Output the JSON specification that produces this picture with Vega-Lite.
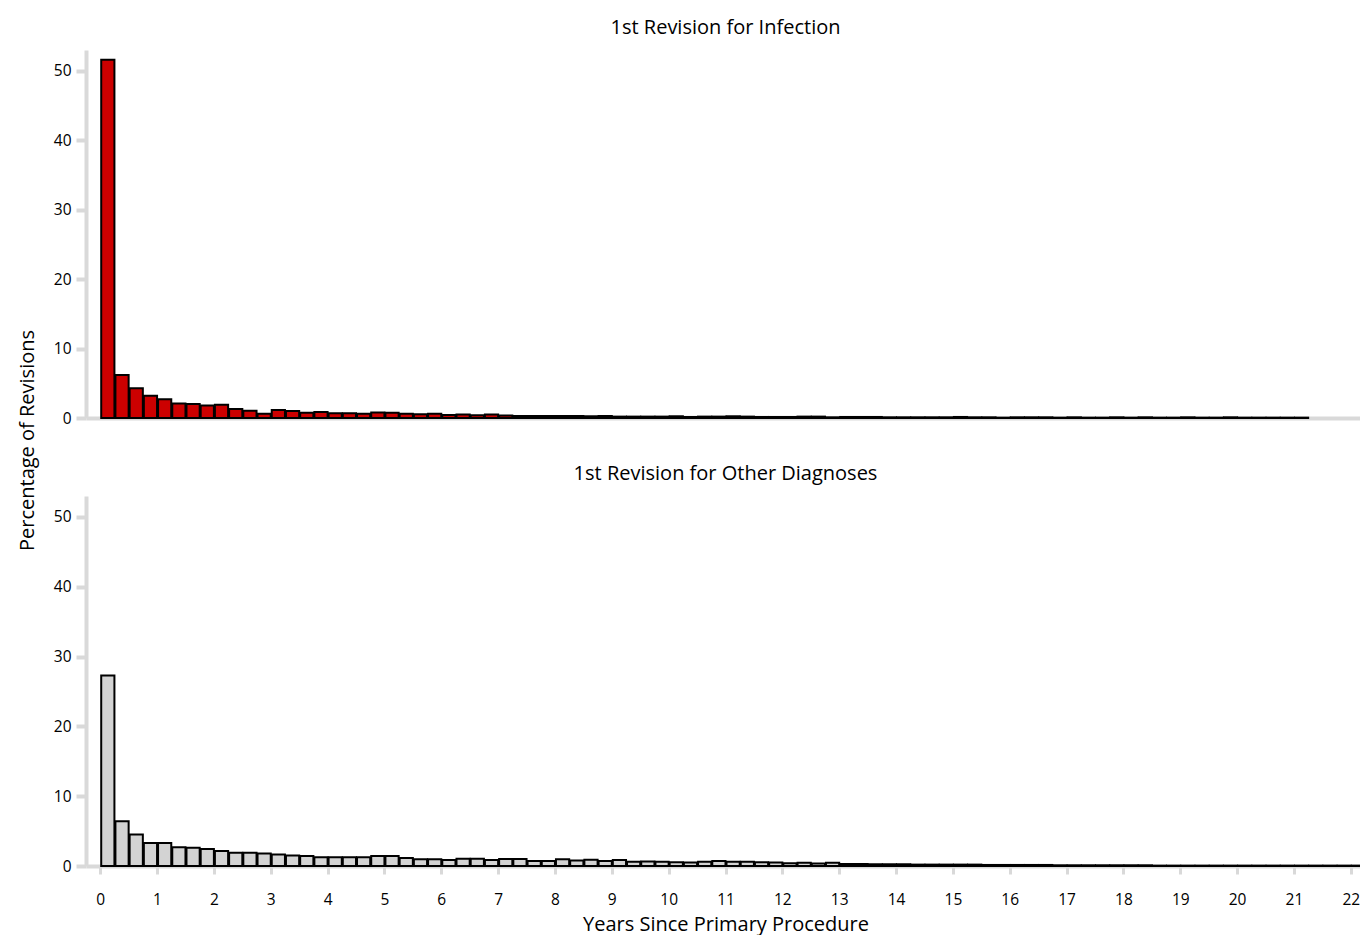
{
  "$schema": "https://vega.github.io/schema/vega-lite/v6.json",
  "padding": {"left": 17, "top": 18, "right": 0, "bottom": 0},
  "spacing": 78,
  "bounds": "flush",
  "config": {
    "font": "Open Sans",
    "view": {"stroke": null},
    "axis": {
      "domainColor": "#d9d9d9",
      "domainWidth": 4,
      "tickColor": "#d9d9d9",
      "tickWidth": 4,
      "tickSize": 10,
      "labelColor": "#000000",
      "labelFontSize": 15.5,
      "grid": false,
      "titleFontWeight": "normal",
      "titleFontSize": 20,
      "titleColor": "#000000"
    },
    "title": {"fontSize": 20, "fontWeight": "normal", "color": "#000000", "offset": 12}
  },
  "datasets": {
    "infection": [
      {"start": 0, "end": 0.25, "pct": 51.6},
      {"start": 0.25, "end": 0.5, "pct": 6.2},
      {"start": 0.5, "end": 0.75, "pct": 4.3},
      {"start": 0.75, "end": 1.0, "pct": 3.2},
      {"start": 1.0, "end": 1.25, "pct": 2.7},
      {"start": 1.25, "end": 1.5, "pct": 2.1},
      {"start": 1.5, "end": 1.75, "pct": 2.0},
      {"start": 1.75, "end": 2.0, "pct": 1.8},
      {"start": 2.0, "end": 2.25, "pct": 1.9},
      {"start": 2.25, "end": 2.5, "pct": 1.3},
      {"start": 2.5, "end": 2.75, "pct": 1.05},
      {"start": 2.75, "end": 3.0, "pct": 0.6},
      {"start": 3.0, "end": 3.25, "pct": 1.15},
      {"start": 3.25, "end": 3.5, "pct": 1.0},
      {"start": 3.5, "end": 3.75, "pct": 0.75},
      {"start": 3.75, "end": 4.0, "pct": 0.85},
      {"start": 4.0, "end": 4.25, "pct": 0.7},
      {"start": 4.25, "end": 4.5, "pct": 0.7},
      {"start": 4.5, "end": 4.75, "pct": 0.6},
      {"start": 4.75, "end": 5.0, "pct": 0.8},
      {"start": 5.0, "end": 5.25, "pct": 0.75},
      {"start": 5.25, "end": 5.5, "pct": 0.6},
      {"start": 5.5, "end": 5.75, "pct": 0.55},
      {"start": 5.75, "end": 6.0, "pct": 0.6},
      {"start": 6.0, "end": 6.25, "pct": 0.45},
      {"start": 6.25, "end": 6.5, "pct": 0.5},
      {"start": 6.5, "end": 6.75, "pct": 0.4},
      {"start": 6.75, "end": 7.0, "pct": 0.5},
      {"start": 7.0, "end": 7.25, "pct": 0.35},
      {"start": 7.25, "end": 7.5, "pct": 0.3},
      {"start": 7.5, "end": 7.75, "pct": 0.3},
      {"start": 7.75, "end": 8.0, "pct": 0.3},
      {"start": 8.0, "end": 8.25, "pct": 0.3},
      {"start": 8.25, "end": 8.5, "pct": 0.3},
      {"start": 8.5, "end": 8.75, "pct": 0.25},
      {"start": 8.75, "end": 9.0, "pct": 0.3},
      {"start": 9.0, "end": 9.25, "pct": 0.2},
      {"start": 9.25, "end": 9.5, "pct": 0.2},
      {"start": 9.5, "end": 9.75, "pct": 0.2},
      {"start": 9.75, "end": 10.0, "pct": 0.2},
      {"start": 10.0, "end": 10.25, "pct": 0.25},
      {"start": 10.25, "end": 10.5, "pct": 0.15},
      {"start": 10.5, "end": 10.75, "pct": 0.2},
      {"start": 10.75, "end": 11.0, "pct": 0.2},
      {"start": 11.0, "end": 11.25, "pct": 0.25},
      {"start": 11.25, "end": 11.5, "pct": 0.2},
      {"start": 11.5, "end": 11.75, "pct": 0.15},
      {"start": 11.75, "end": 12.0, "pct": 0.15},
      {"start": 12.0, "end": 12.25, "pct": 0.15},
      {"start": 12.25, "end": 12.5, "pct": 0.2},
      {"start": 12.5, "end": 12.75, "pct": 0.2},
      {"start": 12.75, "end": 13.0, "pct": 0.1},
      {"start": 13.0, "end": 13.25, "pct": 0.15},
      {"start": 13.25, "end": 13.5, "pct": 0.15},
      {"start": 13.5, "end": 13.75, "pct": 0.15},
      {"start": 13.75, "end": 14.0, "pct": 0.1},
      {"start": 14.0, "end": 14.25, "pct": 0.1},
      {"start": 14.25, "end": 14.5, "pct": 0.1},
      {"start": 14.5, "end": 14.75, "pct": 0.1},
      {"start": 14.75, "end": 15.0, "pct": 0.1},
      {"start": 15.0, "end": 15.25, "pct": 0.15},
      {"start": 15.25, "end": 15.5, "pct": 0.1},
      {"start": 15.5, "end": 15.75, "pct": 0.1},
      {"start": 15.75, "end": 16.0, "pct": 0.05},
      {"start": 16.0, "end": 16.25, "pct": 0.1},
      {"start": 16.25, "end": 16.5, "pct": 0.1},
      {"start": 16.5, "end": 16.75, "pct": 0.1},
      {"start": 16.75, "end": 17.0, "pct": 0.05},
      {"start": 17.0, "end": 17.25, "pct": 0.1},
      {"start": 17.25, "end": 17.5, "pct": 0.05},
      {"start": 17.5, "end": 17.75, "pct": 0.05},
      {"start": 17.75, "end": 18.0, "pct": 0.1},
      {"start": 18.0, "end": 18.25, "pct": 0.05},
      {"start": 18.25, "end": 18.5, "pct": 0.1},
      {"start": 18.5, "end": 18.75, "pct": 0.05},
      {"start": 18.75, "end": 19.0, "pct": 0.05},
      {"start": 19.0, "end": 19.25, "pct": 0.1},
      {"start": 19.25, "end": 19.5, "pct": 0.05},
      {"start": 19.5, "end": 19.75, "pct": 0.05},
      {"start": 19.75, "end": 20.0, "pct": 0.1},
      {"start": 20.0, "end": 20.25, "pct": 0.05},
      {"start": 20.25, "end": 20.5, "pct": 0.05},
      {"start": 20.5, "end": 20.75, "pct": 0.05},
      {"start": 20.75, "end": 21.0, "pct": 0.05},
      {"start": 21.0, "end": 21.25, "pct": 0.05}
    ],
    "other": [
      {"start": 0, "end": 0.25, "pct": 27.3},
      {"start": 0.25, "end": 0.5, "pct": 6.4},
      {"start": 0.5, "end": 0.75, "pct": 4.5},
      {"start": 0.75, "end": 1.0, "pct": 3.3},
      {"start": 1.0, "end": 1.25, "pct": 3.3},
      {"start": 1.25, "end": 1.5, "pct": 2.7},
      {"start": 1.5, "end": 1.75, "pct": 2.6},
      {"start": 1.75, "end": 2.0, "pct": 2.45},
      {"start": 2.0, "end": 2.25, "pct": 2.15},
      {"start": 2.25, "end": 2.5, "pct": 1.9},
      {"start": 2.5, "end": 2.75, "pct": 1.9},
      {"start": 2.75, "end": 3.0, "pct": 1.8},
      {"start": 3.0, "end": 3.25, "pct": 1.65},
      {"start": 3.25, "end": 3.5, "pct": 1.5},
      {"start": 3.5, "end": 3.75, "pct": 1.45},
      {"start": 3.75, "end": 4.0, "pct": 1.25},
      {"start": 4.0, "end": 4.25, "pct": 1.25},
      {"start": 4.25, "end": 4.5, "pct": 1.25},
      {"start": 4.5, "end": 4.75, "pct": 1.25},
      {"start": 4.75, "end": 5.0, "pct": 1.45},
      {"start": 5.0, "end": 5.25, "pct": 1.45},
      {"start": 5.25, "end": 5.5, "pct": 1.15},
      {"start": 5.5, "end": 5.75, "pct": 0.95},
      {"start": 5.75, "end": 6.0, "pct": 0.95},
      {"start": 6.0, "end": 6.25, "pct": 0.85},
      {"start": 6.25, "end": 6.5, "pct": 1.05},
      {"start": 6.5, "end": 6.75, "pct": 1.05},
      {"start": 6.75, "end": 7.0, "pct": 0.85},
      {"start": 7.0, "end": 7.25, "pct": 1.0},
      {"start": 7.25, "end": 7.5, "pct": 1.0},
      {"start": 7.5, "end": 7.75, "pct": 0.7},
      {"start": 7.75, "end": 8.0, "pct": 0.7},
      {"start": 8.0, "end": 8.25, "pct": 0.95},
      {"start": 8.25, "end": 8.5, "pct": 0.8},
      {"start": 8.5, "end": 8.75, "pct": 0.9},
      {"start": 8.75, "end": 9.0, "pct": 0.7},
      {"start": 9.0, "end": 9.25, "pct": 0.85},
      {"start": 9.25, "end": 9.5, "pct": 0.6},
      {"start": 9.5, "end": 9.75, "pct": 0.65},
      {"start": 9.75, "end": 10.0, "pct": 0.6},
      {"start": 10.0, "end": 10.25, "pct": 0.55},
      {"start": 10.25, "end": 10.5, "pct": 0.5},
      {"start": 10.5, "end": 10.75, "pct": 0.6},
      {"start": 10.75, "end": 11.0, "pct": 0.7},
      {"start": 11.0, "end": 11.25, "pct": 0.6},
      {"start": 11.25, "end": 11.5, "pct": 0.6},
      {"start": 11.5, "end": 11.75, "pct": 0.55},
      {"start": 11.75, "end": 12.0, "pct": 0.5},
      {"start": 12.0, "end": 12.25, "pct": 0.4},
      {"start": 12.25, "end": 12.5, "pct": 0.45},
      {"start": 12.5, "end": 12.75, "pct": 0.35},
      {"start": 12.75, "end": 13.0, "pct": 0.45},
      {"start": 13.0, "end": 13.25, "pct": 0.3},
      {"start": 13.25, "end": 13.5, "pct": 0.3},
      {"start": 13.5, "end": 13.75, "pct": 0.25},
      {"start": 13.75, "end": 14.0, "pct": 0.25},
      {"start": 14.0, "end": 14.25, "pct": 0.25},
      {"start": 14.25, "end": 14.5, "pct": 0.2},
      {"start": 14.5, "end": 14.75, "pct": 0.2},
      {"start": 14.75, "end": 15.0, "pct": 0.2},
      {"start": 15.0, "end": 15.25, "pct": 0.2},
      {"start": 15.25, "end": 15.5, "pct": 0.2},
      {"start": 15.5, "end": 15.75, "pct": 0.15},
      {"start": 15.75, "end": 16.0, "pct": 0.15},
      {"start": 16.0, "end": 16.25, "pct": 0.15},
      {"start": 16.25, "end": 16.5, "pct": 0.15},
      {"start": 16.5, "end": 16.75, "pct": 0.15},
      {"start": 16.75, "end": 17.0, "pct": 0.1},
      {"start": 17.0, "end": 17.25, "pct": 0.1},
      {"start": 17.25, "end": 17.5, "pct": 0.1},
      {"start": 17.5, "end": 17.75, "pct": 0.1},
      {"start": 17.75, "end": 18.0, "pct": 0.1},
      {"start": 18.0, "end": 18.25, "pct": 0.1},
      {"start": 18.25, "end": 18.5, "pct": 0.1},
      {"start": 18.5, "end": 18.75, "pct": 0.05},
      {"start": 18.75, "end": 19.0, "pct": 0.05},
      {"start": 19.0, "end": 19.25, "pct": 0.05},
      {"start": 19.25, "end": 19.5, "pct": 0.05},
      {"start": 19.5, "end": 19.75, "pct": 0.05},
      {"start": 19.75, "end": 20.0, "pct": 0.05},
      {"start": 20.0, "end": 20.25, "pct": 0.05},
      {"start": 20.25, "end": 20.5, "pct": 0.05},
      {"start": 20.5, "end": 20.75, "pct": 0.05},
      {"start": 20.75, "end": 21.0, "pct": 0.05},
      {"start": 21.0, "end": 21.25, "pct": 0.05},
      {"start": 21.25, "end": 21.5, "pct": 0.05},
      {"start": 21.5, "end": 21.75, "pct": 0.05},
      {"start": 21.75, "end": 22.0, "pct": 0.05},
      {"start": 22.0, "end": 22.25, "pct": 0.05}
    ]
  },
  "vconcat": [
    {
      "title": "1st Revision for Infection",
      "width": 1279,
      "height": 368,
      "data": {"name": "infection"},
      "mark": {"type": "bar", "color": "#cc0000", "stroke": "#000000", "strokeWidth": 2},
      "encoding": {
        "x": {"field": "start", "type": "quantitative", "bin": {"binned": true, "step": 0.25}, "scale": {"domain": [-0.25, 22.25], "nice": false, "zero": false},
          "axis": {"labels": false, "ticks": false, "domain": true, "title": null}},
        "x2": {"field": "end"},
        "y": {"field": "pct", "type": "quantitative", "scale": {"domain": [0, 53], "nice": false},
          "axis": {"values": [0, 10, 20, 30, 40, 50], "title": "Percentage of Revisions", "titleX": -59, "titleY": 390, "titleAngle": -90, "titleAlign": "center", "titleBaseline": "middle", "labelPadding": 5}}
      }
    },
    {
      "title": "1st Revision for Other Diagnoses",
      "width": 1279,
      "height": 370,
      "data": {"name": "other"},
      "mark": {"type": "bar", "color": "#d3d3d3", "stroke": "#000000", "strokeWidth": 2},
      "encoding": {
        "x": {"field": "start", "type": "quantitative", "bin": {"binned": true, "step": 0.25}, "scale": {"domain": [-0.25, 22.25], "nice": false, "zero": false},
          "axis": {"values": [0,1,2,3,4,5,6,7,8,9,10,11,12,13,14,15,16,17,18,19,20,21,22], "format": "d", "title": "Years Since Primary Procedure", "titleFontSize": 20, "tickSize": 8, "tickWidth": 3, "labelPadding": 18, "titlePadding": 7}},
        "x2": {"field": "end"},
        "y": {"field": "pct", "type": "quantitative", "scale": {"domain": [0, 53], "nice": false},
          "axis": {"values": [0, 10, 20, 30, 40, 50], "title": null, "labelPadding": 5}}
      }
    }
  ]
}
